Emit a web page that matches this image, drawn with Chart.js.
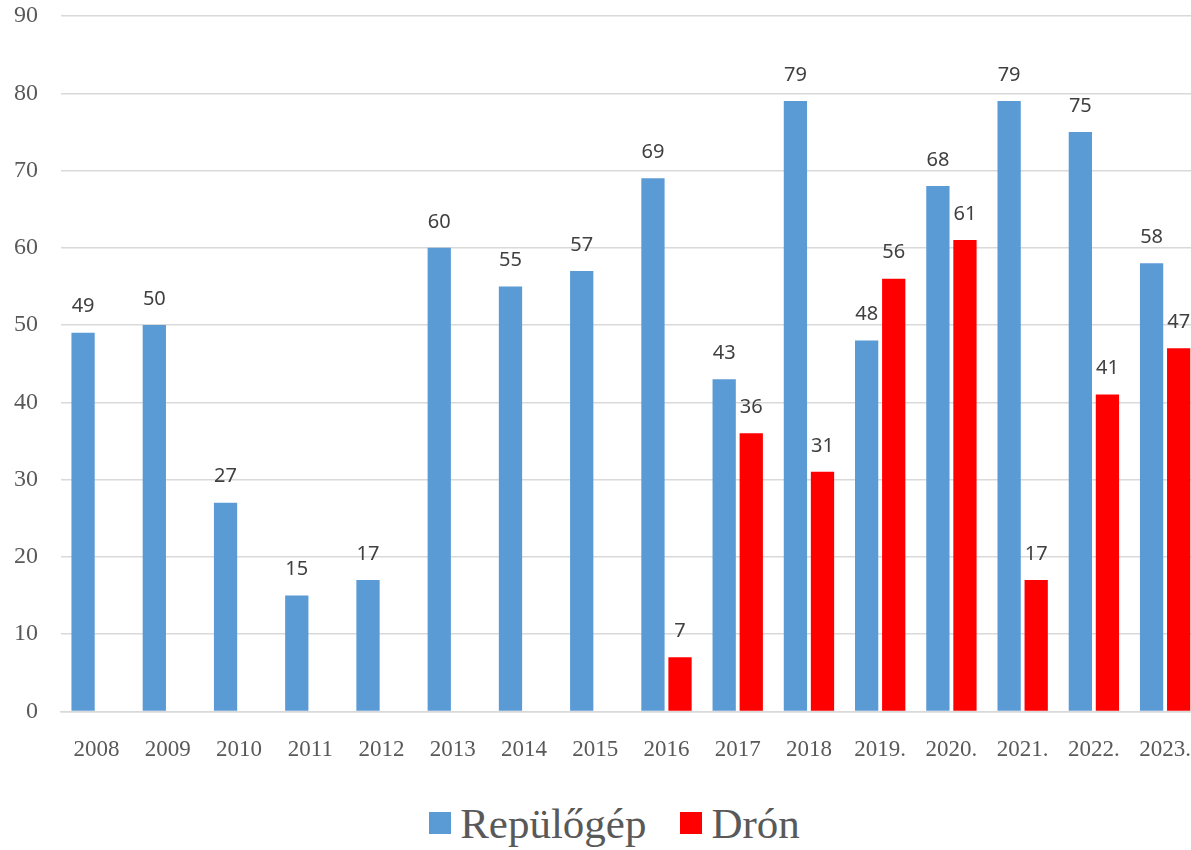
<!DOCTYPE html>
<html lang="hu">
<head>
    <meta charset="UTF-8">
    <title>Repülőgép és drón</title>
    <script src="https://cdn.jsdelivr.net/npm/chart.js"></script>
    <style>
        html, body { margin: 0; padding: 0; background: #fff; overflow: hidden; }
        #page { position: relative; width: 1191px; height: 850px; overflow: hidden; }
        #wrap { position: absolute; left: 0; top: 0; width: 1208px; height: 795px; }
        #legend {
            position: absolute; left: 38px; right: 0; top: 798px; height: 50px;
            display: flex; justify-content: center; align-items: center;
            font-family: "Liberation Serif", serif; font-size: 43px; color: #595959;
        }
        .item { display: flex; align-items: center; margin: 0 17px; }
        .swatch { width: 22px; height: 22px; margin-right: 9px; }
    </style>
</head>
<body>
    <div id="page">
        <div id="wrap"><canvas id="chart"></canvas></div>
        <div id="legend"></div>
    </div>

    <script>
        const years = ['2008', '2009', '2010', '2011', '2012', '2013', '2014', '2015', '2016', '2017', '2018',
            '2019.', '2020.', '2021.', '2022.', '2023.'];
        const planes = [49, 50, 27, 15, 17, 60, 55, 57, 69, 43, 79, 48, 68, 79, 75, 58];
        const drones = [null, null, null, null, null, null, null, null, 7, 36, 31, 56, 61, 17, 41, 47];
        const yTicks = [0, 10, 20, 30, 40, 50, 60, 70, 80, 90];

        // draws the value above each bar
        const valueLabels = {
            id: 'valueLabels',
            afterDatasetsDraw(chart) {
                const ctx = chart.ctx;
                ctx.save();
                ctx.font = '20px "Noto Sans", sans-serif';
                ctx.fillStyle = '#404040';
                ctx.textAlign = 'center';
                ctx.textBaseline = 'middle';
                chart.data.datasets.forEach((ds, i) => {
                    chart.getDatasetMeta(i).data.forEach((bar, j) => {
                        if (ds.data[j] == null) return;
                        ctx.fillText(ds.data[j], bar.x, bar.y - 26);
                    });
                });
                ctx.restore();
            }
        };

        const chart = new Chart(document.getElementById('chart'), {
            type: 'bar',
            data: {
                labels: years,
                datasets: [
                    { label: 'Repülőgép', data: planes, backgroundColor: '#5B9BD5' },
                    { label: 'Drón', data: drones, backgroundColor: '#FF0000' }
                ]
            },
            options: {
                responsive: true,
                maintainAspectRatio: false,
                animation: false,
                categoryPercentage: 0.76,
                barPercentage: 0.86,
                layout: { padding: { top: 0, left: 0, right: 0, bottom: 14 } },
                plugins: {
                    tooltip: { enabled: false },
                    legend: { display: false }
                },
                scales: {
                    x: {
                        grid: { display: false },
                        border: { color: '#D9D9D9', width: 1.5 },
                        ticks: {
                            color: '#595959',
                            padding: 17,
                            maxRotation: 0,
                            font: { family: '"Liberation Serif", serif', size: 23 }
                        }
                    },
                    y: {
                        min: 0,
                        max: 90,
                        afterBuildTicks: axis => { axis.ticks = yTicks.map(v => ({ value: v })); },
                        afterFit: scale => {
                            scale.width = 61;
                            scale.paddingTop = 16;
                        },
                        grid: { color: '#D9D9D9', lineWidth: 1.5, drawTicks: false },
                        border: { display: false },
                        ticks: {
                            color: '#595959',
                            padding: 23,
                            font: { family: '"Liberation Serif", serif', size: 24 }
                        }
                    }
                }
            },
            plugins: [valueLabels]
        });

        // legend as html, built from the datasets
        const legend = document.getElementById('legend');
        chart.data.datasets.forEach(ds => {
            const item = document.createElement('div');
            item.className = 'item';
            const sw = document.createElement('span');
            sw.className = 'swatch';
            sw.style.background = ds.backgroundColor;
            const txt = document.createElement('span');
            txt.textContent = ds.label;
            item.appendChild(sw);
            item.appendChild(txt);
            legend.appendChild(item);
        });
    </script>
</body>
</html>
